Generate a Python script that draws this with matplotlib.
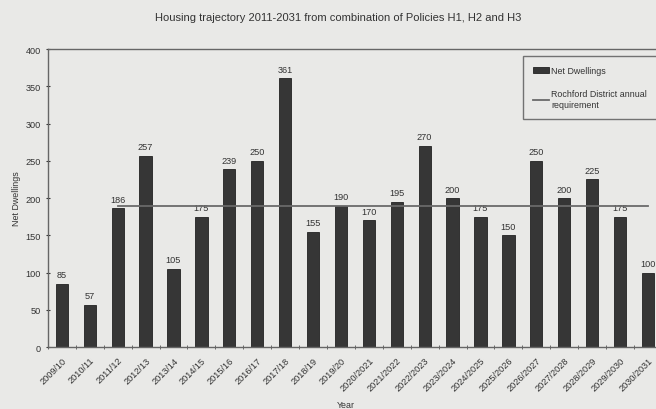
import numpy as np
import matplotlib
matplotlib.use("Agg")
import matplotlib.pyplot as plt

plt.rcParams["font.family"] = ["Liberation Sans", "DejaVu Sans"]

years = ["2009/10", "2010/11", "2011/12", "2012/13", "2013/14", "2014/15",
         "2015/16", "2016/17", "2017/18", "2018/19", "2019/20", "2020/2021",
         "2021/2022", "2022/2023", "2023/2024", "2024/2025", "2025/2026",
         "2026/2027", "2027/2028", "2028/2029", "2029/2030", "2030/2031"]
net_dwellings = [85, 57, 186, 257, 105, 175, 239, 250, 361, 155, 190, 170,
                 195, 270, 200, 175, 150, 250, 200, 225, 175, 100]
requirement = 190
req_start = 2  # line drawn from 2011/12 onwards

bg = "#e9e9e7"
ink = "#333333"

fig = plt.figure(figsize=(6.56, 4.10), dpi=100, facecolor=bg)
ax = fig.add_axes([0.073, 0.151, 0.936, 0.727], facecolor=bg)

x = np.arange(len(years))
bars = ax.bar(x, net_dwellings, width=0.44, color="#363636", edgecolor="#222222",
              lw=0.6, label="Net Dwellings", zorder=2)
for xi, v in zip(x, net_dwellings):
    ax.text(xi, v + 6, str(v), ha="center", va="bottom", fontsize=6.6, color=ink)

line, = ax.plot(x[req_start:], [requirement] * len(x[req_start:]), color="#6a6a6a",
                lw=1.3, label="Rochford District annual\nrequirement", zorder=3)

ax.set_xlim(-0.5, len(years) - 0.5)
ax.set_ylim(0, 400)
ax.set_yticks(range(0, 401, 50))
ax.set_xticks(x)
ax.set_xticklabels(years, rotation=45, ha="right", rotation_mode="anchor",
                   fontsize=6.6, color=ink)
ax.set_xticks(np.arange(-0.5, len(years), 1), minor=True)
ax.tick_params(axis="x", which="major", length=0, pad=6)
ax.tick_params(axis="x", which="minor", length=3, color="#555555", direction="inout")
ax.tick_params(axis="y", labelsize=6.6, colors=ink, length=3, direction="inout")
for s in ["left", "bottom", "top"]:
    ax.spines[s].set_color("#666666")
    ax.spines[s].set_linewidth(1.0)
ax.spines["right"].set_visible(False)

ax.set_ylabel("Net Dwellings", fontsize=6.4, color=ink, labelpad=3)
ax.set_xlabel("Year", fontsize=6.4, color=ink, labelpad=0)
ax.xaxis.set_label_coords(0.485, -0.178)

fig.text(0.515, 0.955, "Housing trajectory 2011-2031 from combination of Policies H1, H2 and H3",
         ha="center", va="center", fontsize=8.0, color=ink)

leg = ax.legend([bars, line], ["Net Dwellings", "Rochford District annual\nrequirement"],
                loc="upper right", bbox_to_anchor=(0.999, 0.99), fontsize=6.4,
                frameon=True, fancybox=False, edgecolor="#555555",
                facecolor=bg, handlelength=1.8, handletextpad=0.3,
                labelspacing=1.6, borderpad=1.1)
leg.get_frame().set_linewidth(1.0)
for t in leg.get_texts():
    t.set_color(ink)

fig.savefig("out.png", dpi=100, facecolor=bg)
